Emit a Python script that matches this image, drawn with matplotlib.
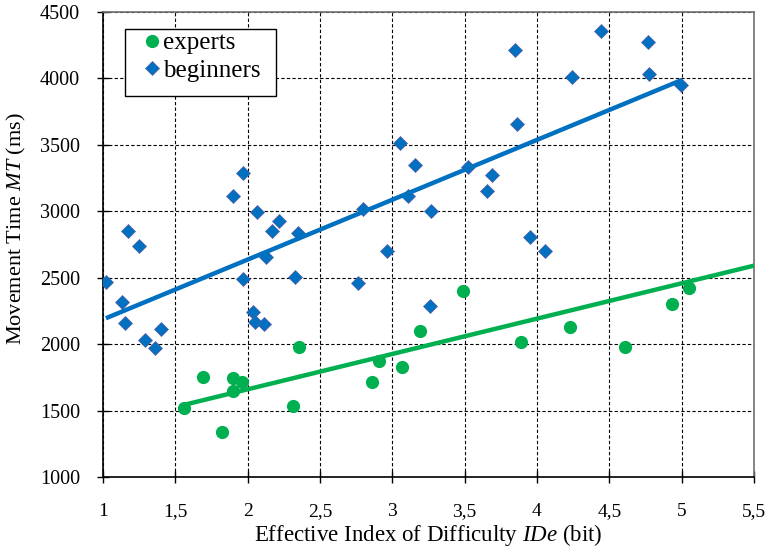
import matplotlib
matplotlib.use("Agg")
import matplotlib.pyplot as plt
from matplotlib.patches import Rectangle

# ---- data ----
experts_x = [1.56, 1.69, 1.82, 1.90, 1.96, 1.90, 2.315, 2.355, 2.86, 2.91, 3.07, 3.19,
             3.49, 3.89, 4.23, 4.61, 4.93, 5.05]
experts_y = [1523, 1750, 1337, 1745, 1716, 1646, 1538, 1979, 1716, 1874, 1829, 2098,
             2403, 2019, 2127, 1982, 2300, 2421]

beginners_x = [1.02, 1.13, 1.15, 1.175, 1.25, 1.29, 1.36, 1.40, 1.90, 1.965, 1.97, 2.04,
               2.05, 2.065, 2.11, 2.125, 2.17, 2.22, 2.325, 2.345, 2.765, 2.80, 2.96, 3.05,
               3.11, 3.16, 3.26, 3.27, 3.525, 3.655, 3.69, 3.85, 3.865, 3.955, 4.055, 4.24,
               4.445, 4.765, 4.775, 4.997]
beginners_y = [2470, 2320, 2162, 2855, 2736, 2032, 1970, 2112, 3116, 3285, 2489, 2245,
               2167, 2998, 2152, 2659, 2849, 2926, 2509, 2835, 2459, 3018, 2704, 3517,
               3116, 3346, 2290, 3005, 3336, 3153, 3274, 4214, 3655, 2807, 2702, 4011,
               4357, 4272, 4033, 3951]

# trend lines (endpoints)
experts_trend_x = [1.56, 5.5]
experts_trend_y = [1543, 2591]
beginners_trend_x = [1.02, 5.0]
beginners_trend_y = [2195, 3988]

x_ticks = [1, 1.5, 2, 2.5, 3, 3.5, 4, 4.5, 5, 5.5]
x_tick_labels = ['1', '1,5', '2', '2,5', '3', '3,5', '4', '4,5', '5', '5,5']
y_ticks = [1000, 1500, 2000, 2500, 3000, 3500, 4000, 4500]
y_tick_labels = ['1000', '1500', '2000', '2500', '3000', '3500', '4000', '4500']

blue = '#0070C0'
green = '#00B050'

plt.rcParams['font.family'] = ['Liberation Serif', 'DejaVu Serif']
plt.rcParams['mathtext.fontset'] = 'custom'
plt.rcParams['mathtext.rm'] = 'Liberation Serif'
plt.rcParams['mathtext.it'] = 'Liberation Serif:italic'

W, H = 771, 552
L, R, T, B = 103, 754, 12, 477
fig = plt.figure(figsize=(W/100, H/100), dpi=100)
ax = fig.add_axes([L/W, 1-B/H, (R-L)/W, (B-T)/H])

def ax_x(px):
    return (px - L) / (R - L)

def ax_y(py):
    return (B - py) / (B - T)

ax.set_xlim(1, 5.5)
ax.set_ylim(1000, 4500)

ax.grid(True, color='black', linestyle=(0, (3, 2)), linewidth=0.8)
ax.set_axisbelow(True)

ax.plot(experts_x, experts_y, linestyle='none', marker='o', markersize=9.5,
        color=green, markeredgewidth=0, label='experts', zorder=3)
ax.plot(beginners_x, beginners_y, linestyle='none', marker='D', markersize=7,
        color=blue, markeredgecolor='#5B5EA6', markeredgewidth=0.5,
        label='beginners', zorder=3)

ax.plot(experts_trend_x, experts_trend_y, color=green, linewidth=3.2, zorder=4,
        solid_capstyle='butt')
ax.plot(beginners_trend_x, beginners_trend_y, color=blue, linewidth=3.2, zorder=4,
        solid_capstyle='butt')

ax.set_xticks(x_ticks)
ax.set_xticklabels(x_tick_labels)
ax.set_yticks(y_ticks)
ax.set_yticklabels(y_tick_labels)

ax.tick_params(axis='both', direction='inout', length=8, width=1, color='black')
ax.tick_params(axis='x', pad=14.5, labelsize=14)
ax.tick_params(axis='y', pad=12.5, labelsize=14.5)

for s in ['left', 'bottom']:
    ax.spines[s].set_color('black')
    ax.spines[s].set_linewidth(1.2)
for s in ['top', 'right']:
    ax.spines[s].set_color('#707070')
    ax.spines[s].set_linewidth(1.2)

ax.set_xlabel(r'Effective Index of Difficulty $IDe$ (bit)', fontsize=16.5)
ax.set_ylabel(r'Movement Time $MT$ (ms)', fontsize=16)
ax.xaxis.set_label_coords(0.5, ax_y(541))
ax.xaxis.label.set_va('baseline')
ax.yaxis.set_label_coords(ax_x(16), ax_y(229))
ax.yaxis.label.set_va('center')

# legend box drawn by hand, entries placed inside it
frame = Rectangle((ax_x(125), ax_y(96)), ax_x(276) - ax_x(125), ax_y(29) - ax_y(96),
                  transform=ax.transAxes, facecolor='white', edgecolor='black',
                  linewidth=1.0, zorder=5)
ax.add_patch(frame)
leg = ax.legend(loc='upper left', bbox_to_anchor=(ax_x(144), ax_y(32)),
                borderaxespad=0, borderpad=0, frameon=False,
                fontsize=18, handlelength=0.64, handletextpad=0.12,
                labelspacing=0.18)
leg.set_zorder(6)

fig.savefig('out.png', dpi=100)
